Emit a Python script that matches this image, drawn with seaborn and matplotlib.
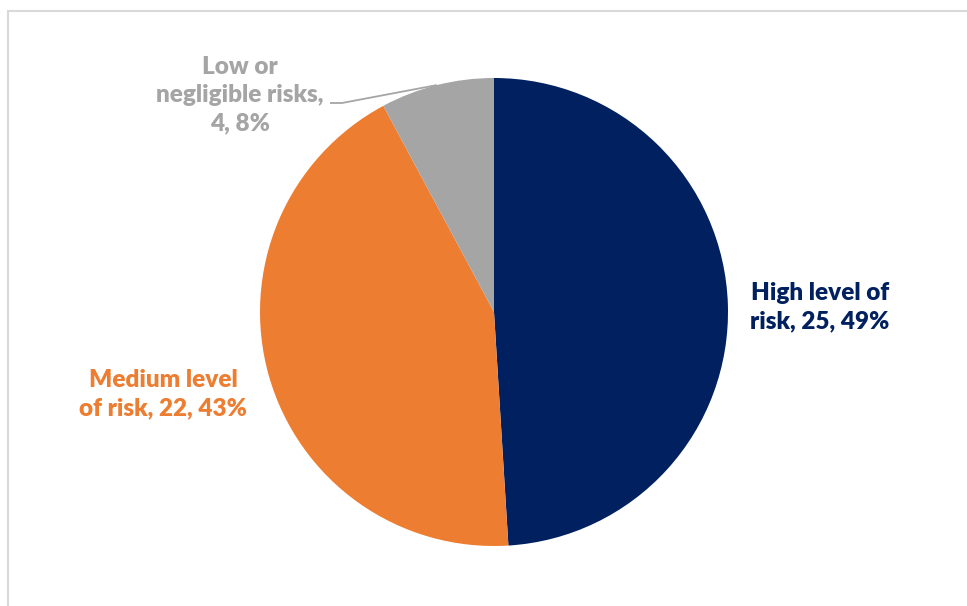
import matplotlib
matplotlib.use("Agg")
import matplotlib.pyplot as plt
import seaborn as sns
import numpy as np
from matplotlib.patches import Rectangle

# ---- data ----
categories = ["High level of risk", "Medium level of risk", "Low or negligible risks"]
counts = [25, 22, 4]
colors = ["#002060", "#ED7D31", "#A5A5A5"]
# label text layout (line breaks) for each category
label_templates = ["High level of\nrisk, {n}, {p}%",
                   "Medium level\nof risk, {n}, {p}%",
                   "Low or\nnegligible risks,\n{n}, {p}%"]

sns.set_theme(style="white")
plt.rcParams["font.family"] = ["Lato", "DejaVu Sans"]

W, H = 967, 606
fig = plt.figure(figsize=(W / 100, H / 100), dpi=100)
ax = fig.add_axes([0, 0, 1, 1])

palette = sns.color_palette(colors)
cx, cy, r = 494, H - 312, 234
wedges, _ = ax.pie(counts, colors=palette, startangle=90, counterclock=False,
                   center=(cx, cy), radius=r,
                   wedgeprops=dict(linewidth=0))
ax.set_xlim(0, W)
ax.set_ylim(0, H)
ax.set_aspect("equal")
ax.axis("off")

total = sum(counts)
pcts = [round(100 * c / total) for c in counts]
label_pos = [(820, H - 307), (163, H - 394), (240, H - 95)]
for tmpl, n, p, col, (lx, ly) in zip(label_templates, counts, pcts, colors, label_pos):
    ax.text(lx, ly, tmpl.format(n=n, p=p), color=col, fontsize=17.5, fontweight="heavy",
            ha="center", va="center", linespacing=1.34)

# leader line for the small slice
w = wedges[2]
mid = np.deg2rad((w.theta1 + w.theta2) / 2)
ex, ey = cx + r * np.cos(mid), cy + r * np.sin(mid)
sx, sy = 330, H - 103
ax.plot([sx, sx + 12, ex], [sy, sy, ey], color="#A5A5A5", lw=1.3, solid_capstyle="butt")

# chart border (partially outside the image)
fig.patches.append(Rectangle((8 / W, 0 - 0.01), 1.2, (H - 11.5) / H + 0.01,
                             transform=fig.transFigure, fill=False,
                             edgecolor="#D9D9D9", linewidth=1.5))

fig.savefig("out.png", dpi=100)
